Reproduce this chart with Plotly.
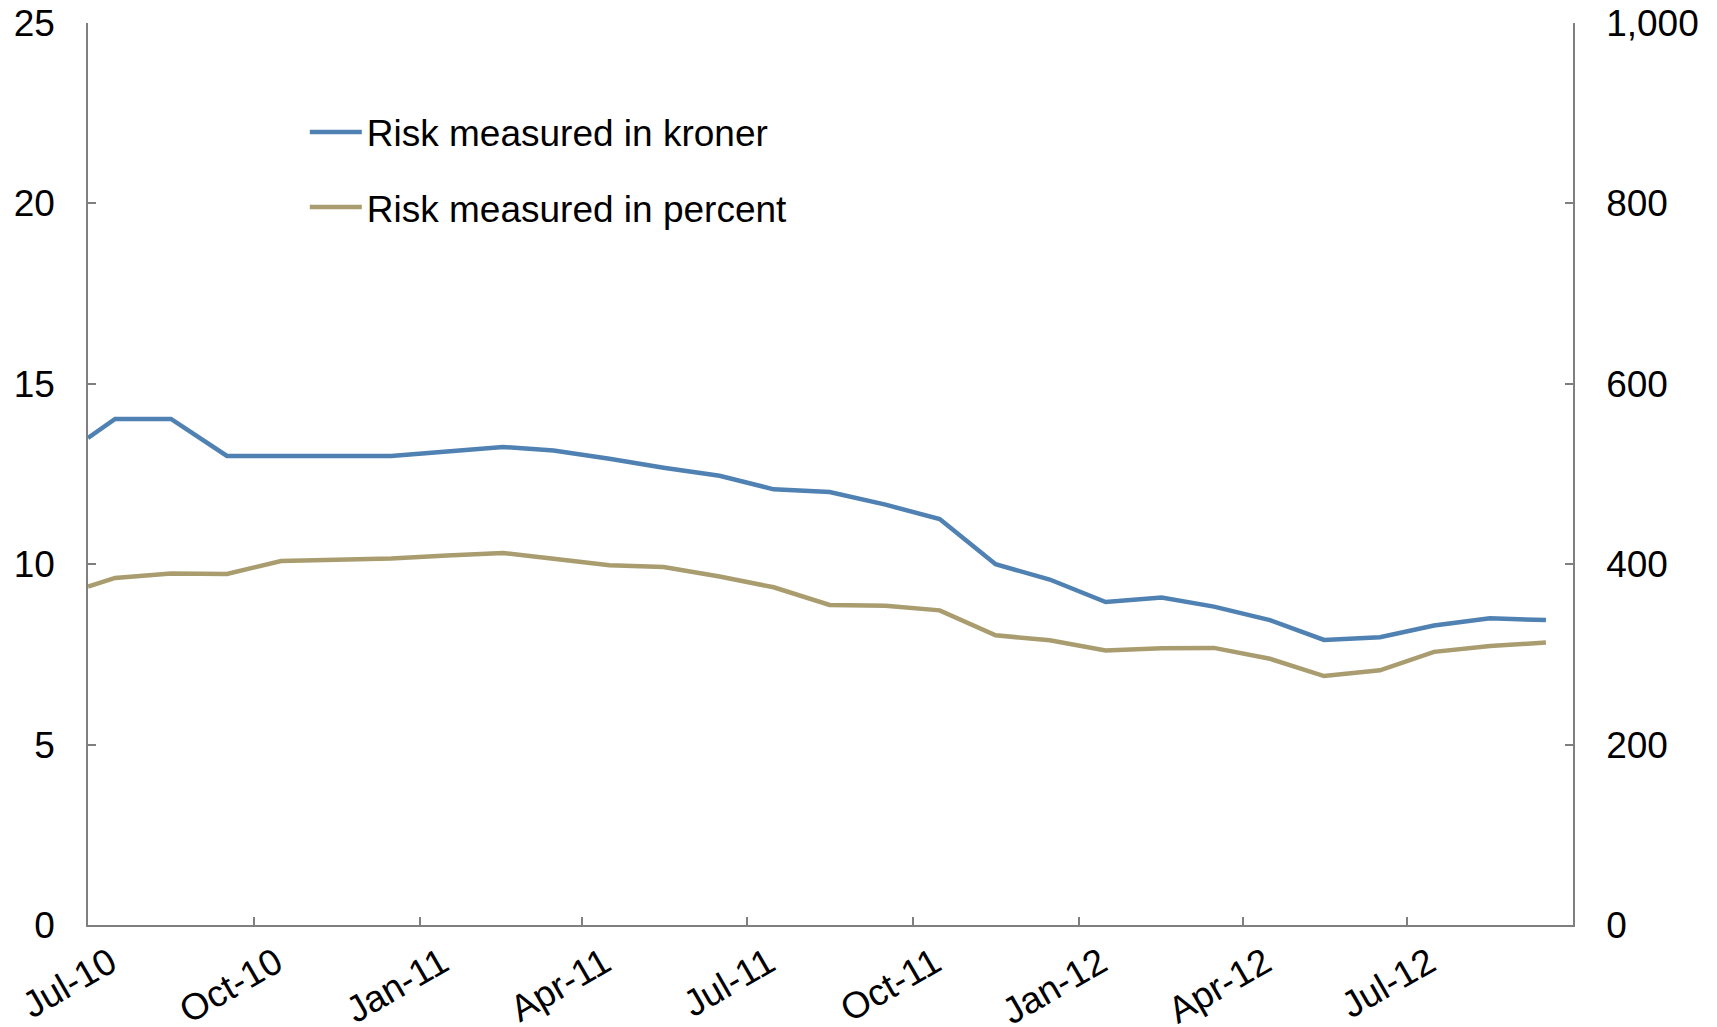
import plotly.graph_objects as go

dates = ["2010-07-01", "2010-07-16", "2010-08-16", "2010-09-16", "2010-10-16", "2010-11-16",
         "2010-12-16", "2011-01-16", "2011-02-16", "2011-03-16", "2011-04-16", "2011-05-16",
         "2011-06-16", "2011-07-16", "2011-08-16", "2011-09-16", "2011-10-16", "2011-11-16",
         "2011-12-16", "2012-01-16", "2012-02-16", "2012-03-16", "2012-04-16", "2012-05-16",
         "2012-06-16", "2012-07-16", "2012-08-16", "2012-09-16"]

risk_kroner = [540, 561, 561, 520, 520, 520, 520, 525, 530, 526, 517, 507, 498, 483, 480, 466,
               450, 400, 383, 358, 363, 353, 338, 316, 319, 332, 340, 338]

risk_percent = [9.38, 9.62, 9.74, 9.73, 10.09, 10.12, 10.16, 10.24, 10.31, 10.15, 9.97, 9.92,
                9.66, 9.36, 8.87, 8.85, 8.72, 8.03, 7.89, 7.61, 7.67, 7.68, 7.38, 6.9,
                7.06, 7.57, 7.73, 7.83]

left_ticks = [0, 5, 10, 15, 20, 25]
right_ticks = [0, 200, 400, 600, 800, 1000]
right_labels = ["0", "200", "400", "600", "800", "1,000"]
x_ticks = ["2010-07-01", "2010-10-01", "2011-01-01", "2011-04-01", "2011-07-01",
           "2011-10-01", "2012-01-01", "2012-04-01", "2012-07-01"]

BLUE = "#5081B3"
TAN = "#A99C6F"
AXIS = "#7F7F7F"
FONT = "Liberation Sans, Arial, sans-serif"
FS = 37

fig = go.Figure()
fig.add_trace(go.Scatter(x=dates, y=risk_kroner, name="Risk measured in kroner", mode="lines",
                         line=dict(color=BLUE, width=4.5), yaxis="y2", legendgroup="a"))
fig.add_trace(go.Scatter(x=dates, y=risk_percent, name="Risk measured in percent", mode="lines",
                         line=dict(color=TAN, width=4.5), yaxis="y", legendgroup="b"))

fig.update_layout(
    width=1717, height=1027,
    margin=dict(l=88, r=144, t=23, b=102),
    paper_bgcolor="white", plot_bgcolor="white",
    font=dict(family=FONT, size=FS, color="black"),
    showlegend=True,
    legend=dict(x=0.146, y=0.913, xanchor="left", yanchor="top", bgcolor="rgba(0,0,0,0)",
                font=dict(size=FS), tracegroupgap=24, itemwidth=52),
    xaxis=dict(type="date", range=["2010-07-01", "2012-10-01"], tickvals=x_ticks,
               tickformat="%b-%y", tickangle=-30, automargin=False,
               ticks="inside", ticklen=8, tickcolor=AXIS, tickwidth=1.5,
               showline=True, linecolor=AXIS, linewidth=1.5, showgrid=False, zeroline=False,
               tickfont=dict(size=FS), ticklabelstandoff=0, ticklabelshift=22),
    yaxis=dict(range=[0, 25], tickvals=left_ticks, ticks="inside", ticklen=8, tickcolor=AXIS,
               tickwidth=1.5, showline=True, linecolor=AXIS, linewidth=1.5, showgrid=False,
               zeroline=False, tickfont=dict(size=FS), ticklabelstandoff=24, automargin=False),
    yaxis2=dict(range=[0, 1000], tickvals=right_ticks, ticktext=right_labels, overlaying="y",
                side="right", ticks="inside", ticklen=8, tickcolor=AXIS, tickwidth=1.5,
                showline=True, linecolor=AXIS, linewidth=1.5, showgrid=False, zeroline=False,
                tickfont=dict(size=FS), ticklabelstandoff=24, automargin=False),
)

fig.write_html("out.html", config={"displayModeBar": False},
               post_script="document.body.style.margin='0';document.body.style.overflow='hidden';")
